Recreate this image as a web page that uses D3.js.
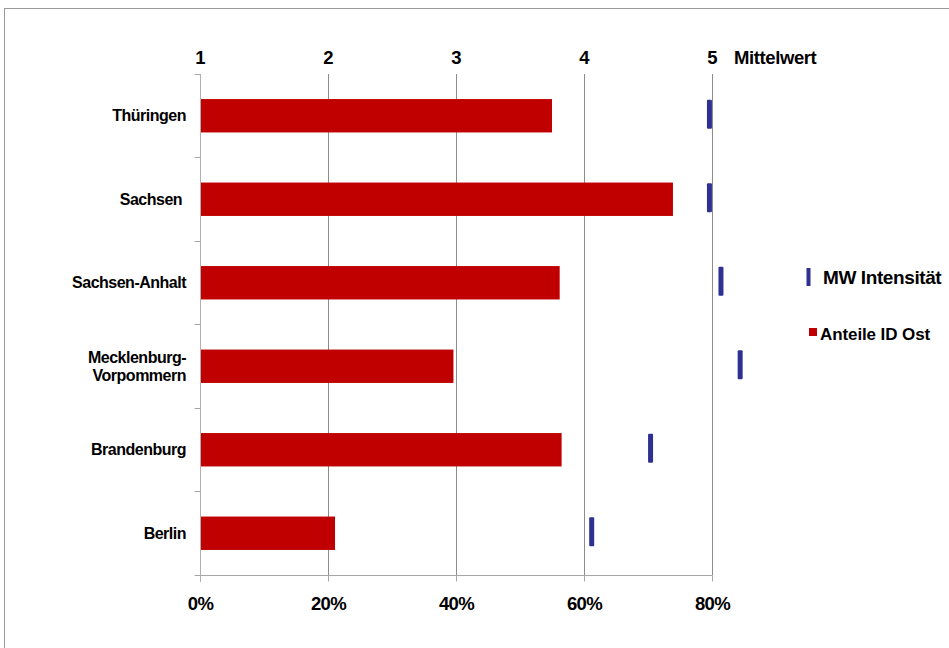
<!DOCTYPE html>
<html>
<head>
<meta charset="utf-8">
<script src="https://cdn.jsdelivr.net/npm/d3@7/dist/d3.min.js"></script>
<style>
  html, body { margin: 0; padding: 0; background: #fff; }
  svg { display: block; font-family: "Liberation Sans", Arial, sans-serif; font-weight: bold; }
</style>
</head>
<body>
<svg id="chart" width="949" height="648"></svg>
<script>
// Bundesländer (top to bottom)
const categories = ["Thüringen", "Sachsen", "Sachsen-Anhalt", "Mecklenburg-Vorpommern", "Brandenburg", "Berlin"];
// Anteile ID Ost (percent)
const shares = [55.0, 73.9, 56.2, 39.6, 56.5, 21.1];
// MW Intensität (mean value, scale 1–5)
const means = [4.98, 4.98, 5.07, 5.22, 4.52, 4.06];
// Axis ticks
const percentTicks = [0, 20, 40, 60, 80];
const meanTicks = [1, 2, 3, 4, 5];
// Category label lines
const labelLines = {
  "Mecklenburg-Vorpommern": ["Mecklenburg-", "Vorpommern"],
  "Sachsen": ["Sachsen "]
};

const svg = d3.select("#chart");
const plotLeft = 200, plotRight = 712, plotTop = 74, plotBottom = 575;

// outer frame
svg.append("rect")
  .attr("x", 4.5).attr("y", 8.5)
  .attr("width", 960).attr("height", 660)
  .attr("fill", "#fff").attr("stroke", "#9a9a9a").attr("stroke-width", 1);

const x = d3.scaleLinear().domain([0, 80]).range([plotLeft, plotRight]);
const xm = d3.scaleLinear().domain([1, 5]).range([plotLeft, plotRight]);
const y = d3.scaleBand().domain(categories).range([plotTop, plotBottom])
  .paddingInner(0.6).paddingOuter(0.3);

// vertical gridlines
svg.append("g").selectAll("line")
  .data(percentTicks.slice(1))
  .join("line")
  .attr("x1", d => Math.round(x(d)) + 0.5).attr("x2", d => Math.round(x(d)) + 0.5)
  .attr("y1", plotTop).attr("y2", plotBottom)
  .attr("stroke", "#8c8c8c").attr("stroke-width", 1);

// bottom percent axis
const xAxis = svg.append("g")
  .attr("transform", `translate(0,${plotBottom + 0.5})`)
  .call(d3.axisBottom(x).tickValues(percentTicks).tickFormat(d => d + "%")
    .tickSizeInner(6).tickSizeOuter(0).tickPadding(15));
xAxis.select(".domain").attr("stroke", "#a6a6a6").attr("d", `M${plotLeft - 5},0H${plotRight + 0.5}`);
xAxis.selectAll(".tick line").attr("stroke", "#a6a6a6");
xAxis.selectAll(".tick text")
  .attr("fill", "#000").style("font-size", "18.5px").style("font-weight", "bold")
  .style("font-family", "'Liberation Sans', Arial, sans-serif").attr("letter-spacing", "-0.6");

// top mean-value axis (labels only)
const xmAxis = svg.append("g")
  .attr("transform", `translate(0,${plotTop})`)
  .call(d3.axisTop(xm).tickValues(meanTicks).tickFormat(d3.format("d"))
    .tickSize(0).tickPadding(10));
xmAxis.select(".domain").remove();
xmAxis.selectAll(".tick text")
  .attr("fill", "#000").style("font-size", "18.5px").style("font-weight", "bold")
  .style("font-family", "'Liberation Sans', Arial, sans-serif");
svg.append("text")
  .attr("x", 734).attr("y", 64)
  .attr("font-size", 18.5).attr("letter-spacing", "-0.4")
  .text("Mittelwert");

// left category axis
const yAxis = svg.append("g").attr("transform", `translate(${plotLeft + 0.5},0)`);
yAxis.append("line")
  .attr("x1", 0).attr("x2", 0).attr("y1", plotTop).attr("y2", plotBottom + 7)
  .attr("stroke", "#b0b0b0");
const bounds = categories.map(c => y(c) - y.step() * y.paddingInner() / 2).concat([plotBottom]);
yAxis.selectAll("line.tick")
  .data(bounds)
  .join("line").attr("class", "tick")
  .attr("x1", -6).attr("x2", 0)
  .attr("y1", d => Math.round(d) + 0.5).attr("y2", d => Math.round(d) + 0.5)
  .attr("stroke", "#a6a6a6");

// category labels
const lab = svg.append("g").attr("font-size", 16).attr("letter-spacing", "-0.5").attr("text-anchor", "end");
categories.forEach(c => {
  const lines = labelLines[c] || [c];
  const cy = y(c) + y.bandwidth() / 2;
  const t = lab.append("text").attr("x", 186).style("white-space", "pre");
  lines.forEach((s, i) => {
    t.append("tspan")
      .attr("x", 186)
      .attr("y", cy + 5.5 + (i - (lines.length - 1) / 2) * 18)
      .text(s);
  });
});

// bars: Anteile ID Ost
svg.append("g").selectAll("rect")
  .data(categories)
  .join("rect")
  .attr("x", x(0) + 1)
  .attr("y", c => y(c))
  .attr("width", (c, i) => x(shares[i]) - x(0) - 1)
  .attr("height", y.bandwidth())
  .attr("fill", "#c00000");

// markers: MW Intensität
svg.append("g").selectAll("rect")
  .data(categories)
  .join("rect")
  .attr("x", (c, i) => xm(means[i]) - 2.5)
  .attr("y", c => y(c) + y.bandwidth() / 2 - 16)
  .attr("width", 5)
  .attr("height", 29)
  .attr("rx", 1)
  .attr("fill", "#2e3192");

// legend
const legend = svg.append("g");
legend.append("rect")
  .attr("x", 806.5).attr("y", 268).attr("width", 4).attr("height", 18)
  .attr("fill", "#2e3192");
legend.append("text")
  .attr("x", 823).attr("y", 284)
  .attr("font-size", 19).attr("letter-spacing", "-0.4")
  .text("MW Intensität");
legend.append("rect")
  .attr("x", 809).attr("y", 328).attr("width", 8).attr("height", 8)
  .attr("fill", "#c00000");
legend.append("text")
  .attr("x", 820).attr("y", 340)
  .attr("font-size", 17).attr("letter-spacing", "-0.1")
  .text("Anteile ID Ost");
</script>
</body>
</html>
